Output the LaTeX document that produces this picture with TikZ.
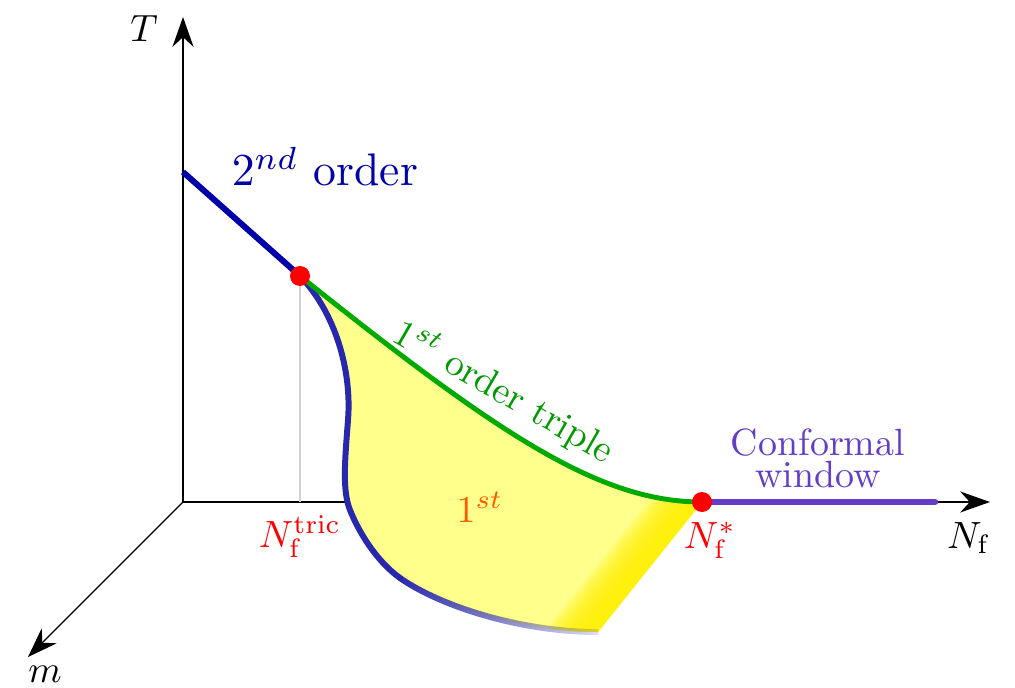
\documentclass[tikz,border=0pt]{standalone}
\usetikzlibrary{arrows.meta,fadings}

\definecolor{orderblue}{RGB}{0,0,170}
\definecolor{curveblue}{RGB}{40,40,175}
\definecolor{tripgreen}{RGB}{0,170,0}
\definecolor{confpurple}{RGB}{100,60,200}
\definecolor{onestorange}{RGB}{255,90,0}
\definecolor{lightyel}{RGB}{255,255,140}
\definecolor{strongyel}{RGB}{255,240,0}

\tikzfading[name=fade tail, left color=transparent!0, right color=transparent!85]

\begin{document}
\begin{tikzpicture}[
    axis/.style={thick,-{Stealth[length=17pt,width=12pt]}},
    lbl/.style={font=\normalsize,scale=2.16},
    biglbl/.style={font=\normalsize,scale=2.6},
    dot/.style={circle,fill=red,inner sep=0pt,minimum size=0.4cm}
]

    \useasboundingbox (-3.66,-3.7) rectangle (16.64,10.04);

    % Key points of the phase diagram
    \coordinate (O) at (0,0);
    \coordinate (Tc) at (0,6.6);
    \coordinate (tric) at (2.34,4.52);
    \coordinate (tricfoot) at (2.34,0);
    \coordinate (star) at (10.38,0);
    \coordinate (cwend) at (15.04,0);
    \coordinate (bend) at (4.34,-1.52);
    \coordinate (bottom) at (8.3,-2.6);

    % Define axes
    \draw[axis] (O) -- (0,9.7) coordinate (Ttip);
    \draw[axis] (O) -- (16.14,0) coordinate (Nftip);
    \draw[axis] (O) -- (-3.1,-3.1) coordinate (mtip);

    % Guide line down to the axis
    \draw[gray!35,thick] (tric) -- (tricfoot);

    % Highlight the first order region
    \begin{scope}
        \clip (tric) .. controls (6.34,1.32) and (8.34,0) .. (star) -- (bottom)
            .. controls (6.74,-2.6) and (5.14,-2.08) .. (bend)
            .. controls (3.84,-1.16) and (3.5,-0.56) .. (3.34,-0.16)
            .. controls (3.18,0.24) and (3.24,0.84) .. (3.3,1.64)
            .. controls (3.38,2.64) and (3.04,3.8) .. (tric) -- cycle;
        \fill[lightyel] (0,-3) rectangle (11,5);
        % stronger yellow towards the lower right edge
        \begin{scope}[shift={(9.34,-1.3)},rotate=-38.7]
            \foreach \d in {0.25,0.3,...,0.9} {
                \fill[strongyel,opacity=0.15] (-\d,-5) -- (0.5,-5) -- (0.5,5) -- (-\d,5) -- cycle;
            }
        \end{scope}
    \end{scope}

    % Second order line
    \draw[orderblue,line width=3.4pt] (Tc) -- (tric);

    % Boundary of the first order region
    \draw[curveblue,line width=3.4pt,line cap=round] (tric)
        .. controls (3.04,3.8) and (3.38,2.64) .. (3.3,1.64)
        .. controls (3.24,0.84) and (3.18,0.24) .. (3.34,-0.16)
        .. controls (3.5,-0.56) and (3.84,-1.16) .. (bend);
    \draw[curveblue,line width=3.4pt,path fading=fade tail] (bend)
        .. controls (5.14,-2.08) and (6.74,-2.6) .. (bottom);

    % First order triple line
    \draw[tripgreen,line width=2.8pt] (tric) .. controls (6.34,1.32) and (8.34,0) .. (star);

    % Conformal window
    \draw[confpurple,line width=3.8pt,line cap=round] (star) -- (cwend);

    % Mark the special points
    \node[dot] (tricdot) at (tric) {};
    \node[dot] (stardot) at (star) {};

    % Labels
    \node[lbl, anchor=base] (Tlab) at (-0.78,9.2) {$T$};
    \node[lbl, anchor=base] (Nflab) at (15.72,-0.92) {$N_\mathrm{f}$};
    \node[lbl, anchor=base] (mlab) at (-2.76,-3.6) {$m$};
    \node[biglbl, orderblue, anchor=base] (seclab) at (2.84,6.32) {$2^{nd}$ order};
    \node[lbl, red, anchor=base] (triclab) at (2.34,-0.9) {$N_\mathrm{f}^\mathrm{tric}$};
    \node[lbl, red, anchor=base] (starlab) at (10.54,-0.92) {$N_\mathrm{f}^*$};
    \node[lbl, onestorange, anchor=base] (firstlab) at (5.94,-0.4) {$1^{st}$};
    \node[lbl, tripgreen!90!black, rotate=-30, anchor=base] (triplab) at (6.3,2.0) {$1^{st}$ order triple};
    \node[font=\fontsize{10}{8.4}\selectfont, scale=2.16, confpurple, align=center, anchor=base] (cwlab) at (12.7,0.3) {Conformal\\window};

\end{tikzpicture}
\end{document}
